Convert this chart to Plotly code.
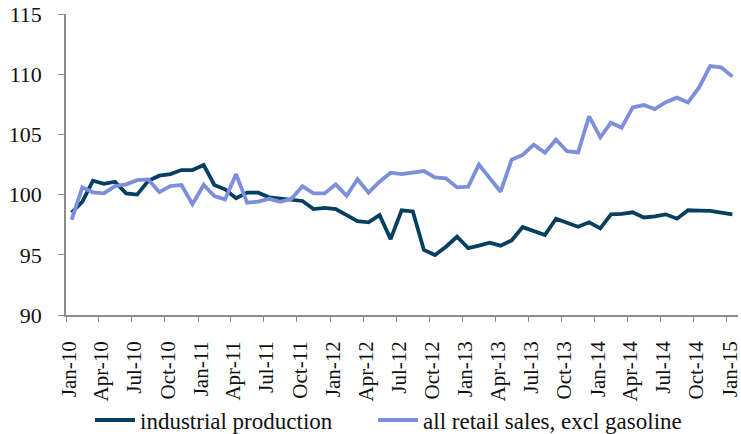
import plotly.graph_objects as go
import pandas as pd

months = pd.date_range("2010-01-01", "2015-01-01", freq="MS").strftime("%Y-%m-%d").tolist()

industrial_production = [
    98.5, 99.4, 101.15, 100.9, 101.07, 100.1, 100.0, 101.15, 101.57, 101.7,
    102.04, 102.04, 102.46, 100.8, 100.44, 99.7, 100.16, 100.16, 99.77, 99.69,
    99.6, 99.47, 98.8, 98.9, 98.8, 98.3, 97.8, 97.7, 98.3, 96.3,
    98.7, 98.6, 95.4, 94.98, 95.67, 96.5, 95.56, 95.76, 96.0, 95.76,
    96.2, 97.3, 97.0, 96.64, 98.0, 97.67, 97.33, 97.7, 97.2, 98.36,
    98.4, 98.53, 98.1, 98.2, 98.36, 98.0, 98.7, 98.67, 98.64, 98.5,
    98.36,
]

retail_sales_excl_gasoline = [
    97.9, 100.6, 100.19, 100.1, 100.7, 100.85, 101.2, 101.26, 100.2, 100.7,
    100.8, 99.2, 100.8, 99.88, 99.6, 101.7, 99.33, 99.42, 99.65, 99.4,
    99.65, 100.7, 100.1, 100.1, 100.85, 99.9, 101.27, 100.16, 101.07, 101.82,
    101.7, 101.8, 101.96, 101.43, 101.35, 100.6, 100.66, 102.5, 101.35, 100.24,
    102.9, 103.3, 104.15, 103.48, 104.56, 103.6, 103.5, 106.5, 104.76, 105.97,
    105.56, 107.24, 107.44, 107.1, 107.67, 108.05, 107.65, 108.9, 110.68, 110.57,
    109.8,
]

series_names = ["industrial production", "all retail sales, excl gasoline"]
y_ticks = [90, 95, 100, 105, 110, 115]

FONT = "Liberation Serif"
fig = go.Figure()
fig.add_trace(go.Scatter(
    x=months, y=industrial_production, name=series_names[0], mode="lines",
    line=dict(color="#063f5f", width=3.8),
    xperiod="M1", xperiodalignment="middle", legend="legend",
))
fig.add_trace(go.Scatter(
    x=months, y=retail_sales_excl_gasoline, name=series_names[1], mode="lines",
    line=dict(color="#7d8fdb", width=3.8),
    xperiod="M1", xperiodalignment="middle", legend="legend2",
))

legend_common = dict(orientation="h", xanchor="left", y=-0.349, yanchor="middle",
                     bgcolor="rgba(0,0,0,0)", font=dict(family=FONT, size=23),
                     itemwidth=40)

fig.update_layout(
    width=741, height=434,
    margin=dict(l=66, r=3, t=14, b=119, autoexpand=False),
    paper_bgcolor="white", plot_bgcolor="white",
    font=dict(family=FONT, size=21, color="#111111"),
    showlegend=True,
    legend=dict(x=0.0357, **legend_common),
    legend2=dict(x=0.457, **legend_common),
    xaxis=dict(
        type="date", range=["2010-01-01", "2015-02-01"],
        tick0="2010-01-01", dtick="M3", tickformat="%b-%y", tickangle=-90,
        showline=True, linecolor="#8c8c8c", linewidth=1.5,
        ticks="outside", ticklen=5, tickcolor="#8c8c8c",
        ticklabelstandoff=11, ticklabelshift=3, ticklabeloverflow="allow",
        showgrid=False, zeroline=False, automargin=False,
        tickfont=dict(family=FONT, size=21),
    ),
    yaxis=dict(
        range=[90, 115], tickvals=y_ticks,
        showline=True, linecolor="#8c8c8c", linewidth=1.5,
        ticks="outside", ticklen=6, tickcolor="#8c8c8c",
        ticklabelstandoff=12, ticklabeloverflow="allow",
        showgrid=False, zeroline=False, automargin=False,
        tickfont=dict(family=FONT, size=22),
    ),
)

fig.write_html("out.html", config={"displayModeBar": False},
               post_script="document.body.style.margin='0px';")
